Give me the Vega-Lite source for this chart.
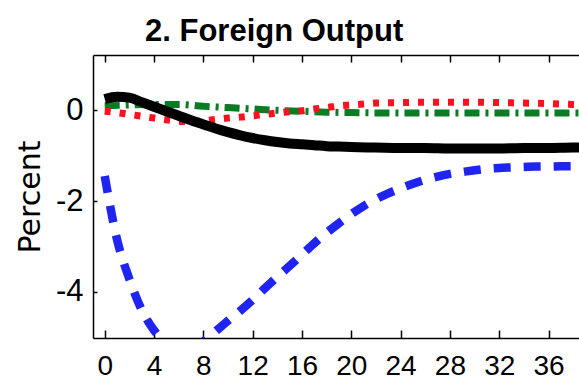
{
  "$schema": "https://vega.github.io/schema/vega-lite/v6.json",
  "autosize": "none",
  "padding": {"left": 93, "top": 55, "right": 0, "bottom": 45},
  "width": 486,
  "height": 283,
  "background": "white",
  "config": {"view": {"stroke": null}},
  "title": {
    "text": "2. Foreign Output",
    "font": "Liberation Sans",
    "fontSize": 31,
    "fontWeight": "bold",
    "color": "black",
    "anchor": "start",
    "frame": "group",
    "dx": 52,
    "baseline": "alphabetic",
    "offset": -18
  },
  "data": {
    "values": [
      {"s": "k", "t": 0, "v": 0.25}, {"s": "k", "t": 1, "v": 0.30}, {"s": "k", "t": 2, "v": 0.28}, {"s": "k", "t": 3, "v": 0.18},
      {"s": "k", "t": 4, "v": 0.08}, {"s": "k", "t": 5, "v": -0.02}, {"s": "k", "t": 6, "v": -0.12}, {"s": "k", "t": 7, "v": -0.22},
      {"s": "k", "t": 8, "v": -0.31}, {"s": "k", "t": 9, "v": -0.40}, {"s": "k", "t": 10, "v": -0.48}, {"s": "k", "t": 11, "v": -0.55},
      {"s": "k", "t": 12, "v": -0.61}, {"s": "k", "t": 13, "v": -0.66}, {"s": "k", "t": 14, "v": -0.70}, {"s": "k", "t": 15, "v": -0.73},
      {"s": "k", "t": 16, "v": -0.75}, {"s": "k", "t": 17, "v": -0.77}, {"s": "k", "t": 18, "v": -0.79}, {"s": "k", "t": 19, "v": -0.80},
      {"s": "k", "t": 20, "v": -0.81}, {"s": "k", "t": 22, "v": -0.82}, {"s": "k", "t": 24, "v": -0.83}, {"s": "k", "t": 26, "v": -0.83},
      {"s": "k", "t": 28, "v": -0.84}, {"s": "k", "t": 30, "v": -0.84}, {"s": "k", "t": 32, "v": -0.84}, {"s": "k", "t": 34, "v": -0.83},
      {"s": "k", "t": 36, "v": -0.83}, {"s": "k", "t": 38, "v": -0.82}, {"s": "k", "t": 40, "v": -0.82},

      {"s": "b", "t": 0, "v": -1.45}, {"s": "b", "t": 1, "v": -2.85}, {"s": "b", "t": 2, "v": -3.72}, {"s": "b", "t": 3, "v": -4.40},
      {"s": "b", "t": 4, "v": -4.85}, {"s": "b", "t": 5, "v": -5.15}, {"s": "b", "t": 6, "v": -5.30}, {"s": "b", "t": 7, "v": -5.28},
      {"s": "b", "t": 8, "v": -5.10}, {"s": "b", "t": 9, "v": -4.87}, {"s": "b", "t": 10, "v": -4.64}, {"s": "b", "t": 11, "v": -4.42},
      {"s": "b", "t": 12, "v": -4.18}, {"s": "b", "t": 13, "v": -3.92}, {"s": "b", "t": 14, "v": -3.67}, {"s": "b", "t": 15, "v": -3.43},
      {"s": "b", "t": 16, "v": -3.18}, {"s": "b", "t": 17, "v": -2.93}, {"s": "b", "t": 18, "v": -2.70}, {"s": "b", "t": 19, "v": -2.49},
      {"s": "b", "t": 20, "v": -2.29}, {"s": "b", "t": 21, "v": -2.11}, {"s": "b", "t": 22, "v": -1.96}, {"s": "b", "t": 23, "v": -1.83},
      {"s": "b", "t": 24, "v": -1.72}, {"s": "b", "t": 25, "v": -1.62}, {"s": "b", "t": 26, "v": -1.53}, {"s": "b", "t": 27, "v": -1.46},
      {"s": "b", "t": 28, "v": -1.40}, {"s": "b", "t": 29, "v": -1.36}, {"s": "b", "t": 30, "v": -1.32}, {"s": "b", "t": 31, "v": -1.29},
      {"s": "b", "t": 32, "v": -1.27}, {"s": "b", "t": 33, "v": -1.26}, {"s": "b", "t": 34, "v": -1.25}, {"s": "b", "t": 35, "v": -1.24},
      {"s": "b", "t": 36, "v": -1.24}, {"s": "b", "t": 38, "v": -1.23}, {"s": "b", "t": 40, "v": -1.23},

      {"s": "r", "t": 0, "v": -0.02}, {"s": "r", "t": 1, "v": -0.05}, {"s": "r", "t": 2, "v": -0.09}, {"s": "r", "t": 3, "v": -0.13},
      {"s": "r", "t": 4, "v": -0.17}, {"s": "r", "t": 5, "v": -0.21}, {"s": "r", "t": 6, "v": -0.24}, {"s": "r", "t": 7, "v": -0.25},
      {"s": "r", "t": 8, "v": -0.23}, {"s": "r", "t": 9, "v": -0.20}, {"s": "r", "t": 10, "v": -0.17}, {"s": "r", "t": 11, "v": -0.15},
      {"s": "r", "t": 12, "v": -0.12}, {"s": "r", "t": 13, "v": -0.09}, {"s": "r", "t": 14, "v": -0.06}, {"s": "r", "t": 15, "v": -0.03},
      {"s": "r", "t": 16, "v": -0.01}, {"s": "r", "t": 17, "v": 0.03}, {"s": "r", "t": 18, "v": 0.06}, {"s": "r", "t": 19, "v": 0.10},
      {"s": "r", "t": 20, "v": 0.12}, {"s": "r", "t": 21, "v": 0.14}, {"s": "r", "t": 22, "v": 0.16}, {"s": "r", "t": 24, "v": 0.17},
      {"s": "r", "t": 26, "v": 0.18}, {"s": "r", "t": 28, "v": 0.18}, {"s": "r", "t": 30, "v": 0.18}, {"s": "r", "t": 32, "v": 0.17},
      {"s": "r", "t": 34, "v": 0.16}, {"s": "r", "t": 36, "v": 0.15}, {"s": "r", "t": 38, "v": 0.13}, {"s": "r", "t": 40, "v": 0.12},

      {"s": "g", "t": 0, "v": 0.10}, {"s": "g", "t": 2, "v": 0.12}, {"s": "g", "t": 4, "v": 0.13}, {"s": "g", "t": 6, "v": 0.13},
      {"s": "g", "t": 8, "v": 0.09}, {"s": "g", "t": 10, "v": 0.06}, {"s": "g", "t": 12, "v": 0.03}, {"s": "g", "t": 14, "v": 0.00},
      {"s": "g", "t": 16, "v": -0.02}, {"s": "g", "t": 18, "v": -0.04}, {"s": "g", "t": 20, "v": -0.05}, {"s": "g", "t": 24, "v": -0.06},
      {"s": "g", "t": 28, "v": -0.06}, {"s": "g", "t": 32, "v": -0.06}, {"s": "g", "t": 36, "v": -0.06}, {"s": "g", "t": 40, "v": -0.06}
    ]
  },
  "resolve": {"axis": {"x": "independent"}},
  "layer": [
    {
      "encoding": {
        "x": {
          "field": "t", "type": "quantitative",
          "scale": {"domain": [-0.95, 38.47], "nice": false, "zero": false},
          "axis": {
            "orient": "bottom", "title": null, "grid": false,
            "values": [0, 4, 8, 12, 16, 20, 24, 28, 32, 36],
            "domainColor": "black", "domainWidth": 1.5,
            "tickColor": "black", "tickWidth": 1.5, "tickSize": -8,
            "labelFont": "Liberation Sans",
            "labelFontSize": 28, "labelColor": "black", "labelPadding": 22,
            "labelFlush": false, "labelOverlap": false
          }
        },
        "y": {
          "field": "v", "type": "quantitative",
          "scale": {"domain": [-5.02, 1.22], "nice": false, "zero": false},
          "axis": {
            "title": "Percent", "grid": false,
            "values": [-4, -2, 0],
            "labelExpr": "datum.value < 0 ? '-' + abs(datum.value) : datum.label",
            "domainColor": "black", "domainWidth": 1.5,
            "tickColor": "black", "tickWidth": 1.5, "tickSize": -4,
            "labelFont": "Liberation Sans",
            "labelFontSize": 31, "labelColor": "black", "labelPadding": 14,
            "labelFlush": false, "labelOverlap": false,
            "titleFont": "DejaVu Sans", "titleFontSize": 30, "titleFontWeight": "normal",
            "titleColor": "black", "titlePadding": 10
          }
        }
      },
      "layer": [
        {
          "transform": [{"filter": "datum.s === 'g'"}],
          "mark": {"type": "line", "clip": true, "color": "#0a7d24", "strokeWidth": 7, "strokeDash": [15, 6, 3, 6], "interpolate": "monotone"}
        },
        {
          "transform": [{"filter": "datum.s === 'r'"}],
          "mark": {"type": "line", "clip": true, "color": "#ff1020", "strokeWidth": 7, "strokeDash": [6, 9], "interpolate": "monotone"}
        },
        {
          "transform": [{"filter": "datum.s === 'b'"}],
          "mark": {"type": "line", "clip": true, "color": "#1f24f0", "strokeWidth": 8.5, "strokeDash": [17, 13], "interpolate": "monotone"}
        },
        {
          "transform": [{"filter": "datum.s === 'k'"}],
          "mark": {"type": "line", "clip": true, "color": "black", "strokeWidth": 10, "interpolate": "monotone"}
        }
      ]
    },
    {
      "transform": [{"filter": "datum.s === 'k'"}],
      "mark": {"type": "line", "strokeOpacity": 0, "clip": true},
      "encoding": {
        "x": {
          "field": "t", "type": "quantitative",
          "scale": {"domain": [-0.95, 38.47], "nice": false, "zero": false},
          "axis": {
            "orient": "top", "title": null, "grid": false, "labels": false,
            "values": [0, 4, 8, 12, 16, 20, 24, 28, 32, 36],
            "domainColor": "black", "domainWidth": 1.5,
            "tickColor": "black", "tickWidth": 1.5, "tickSize": -7
          }
        },
        "y": {"field": "v", "type": "quantitative", "scale": {"domain": [-5.02, 1.22], "nice": false, "zero": false}}
      }
    }
  ]
}
